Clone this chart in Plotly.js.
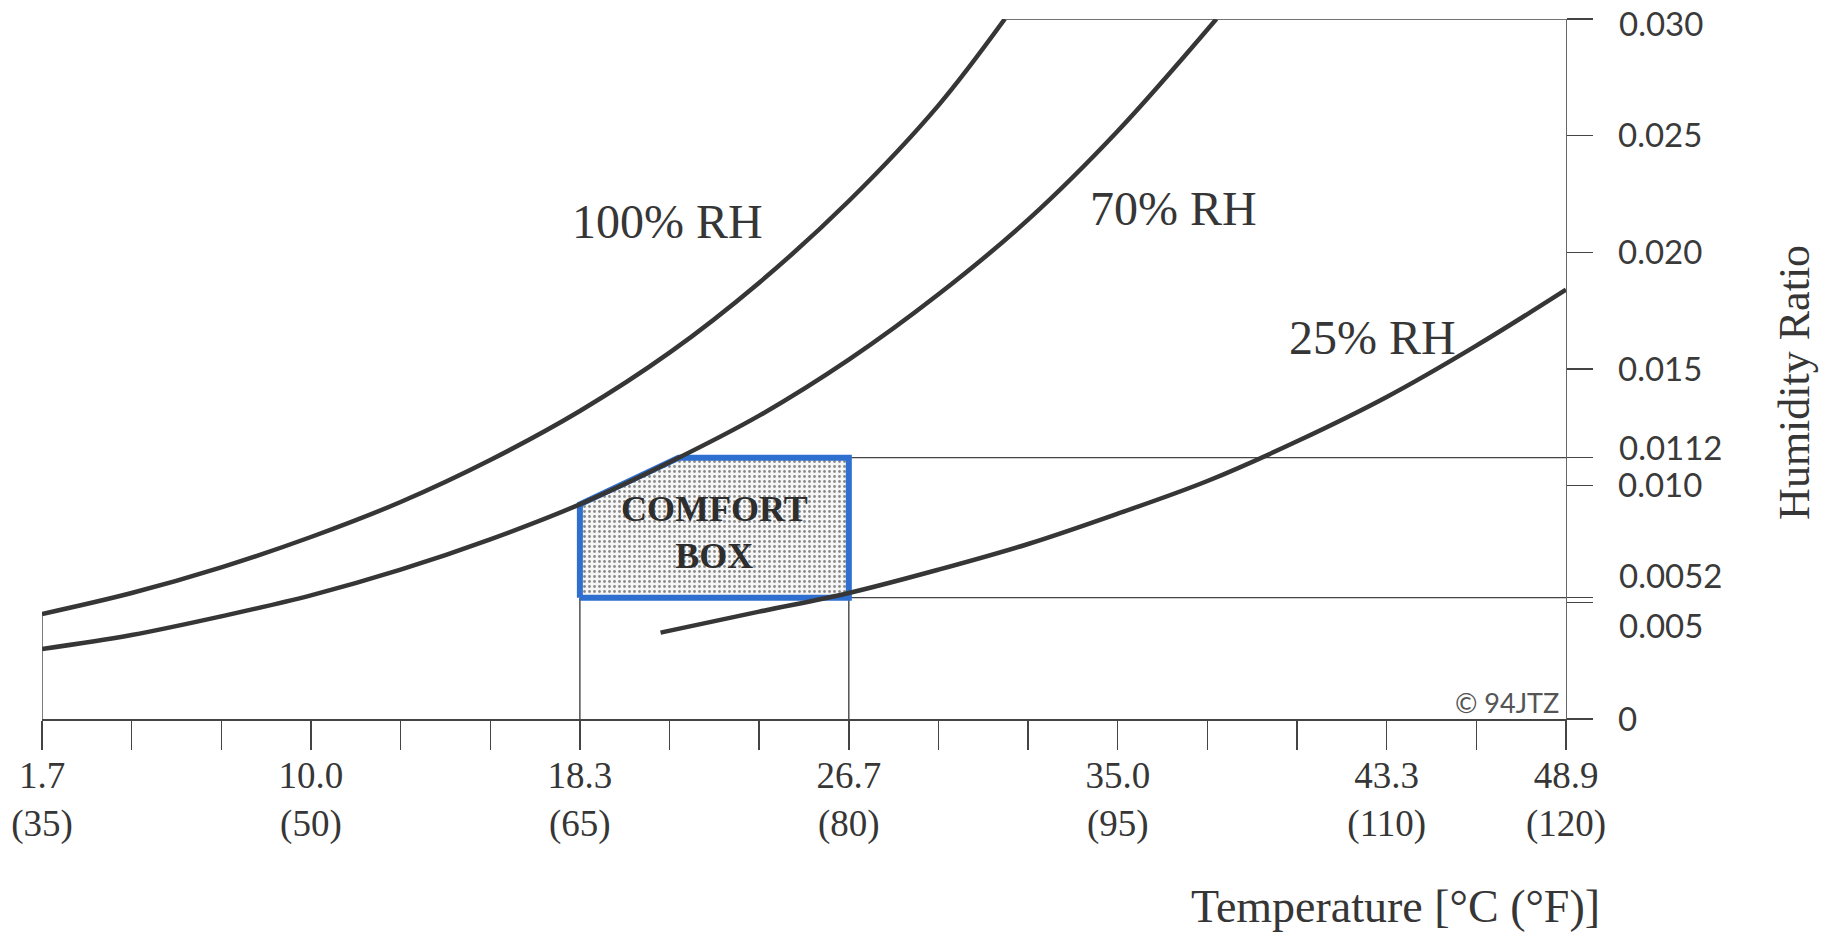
<!DOCTYPE html>
<html>
<head>
<meta charset="utf-8">
<script src="https://cdn.plot.ly/plotly-3.0.1.min.js"></script>
<style>
  html, body { margin: 0; padding: 0; background: #ffffff; }
  #chart { width: 1828px; height: 940px; }
</style>
</head>
<body>
<div id="chart"></div>
<script>
// ---- Data ----
// Temperatures in °F (x), humidity ratio (y)
var tempF100 = [35, 40, 45, 50, 55, 60, 65, 70, 75, 80, 85, 88.7];
var ratio100 = [0.0045, 0.0054, 0.0065, 0.0078, 0.0093, 0.0111, 0.0132, 0.0157, 0.0187, 0.0222, 0.0263, 0.0300];

var tempF70 = [35, 40, 45, 50, 55, 60, 65, 70, 75, 80, 85, 90, 95, 100.5];
var ratio70 = [0.0030, 0.0036, 0.0044, 0.0053, 0.0064, 0.0077, 0.0092, 0.0110, 0.0130, 0.0154, 0.0182, 0.0214, 0.0252, 0.0300];

var tempF25 = [69.5, 75, 80, 85, 90, 95, 100, 105, 110, 115, 120];
var ratio25 = [0.0037, 0.0046, 0.0054, 0.0064, 0.0075, 0.0088, 0.0102, 0.0119, 0.0138, 0.0160, 0.0184];

// Comfort box outline (upper-left edge follows the 70% RH curve)
var boxTempF = [65, 65, 67.5, 70.5, 80, 80, 65];
var boxRatio = [0.0052, 0.0092, 0.0101, 0.0112, 0.0112, 0.0052, 0.0052];

// Comfort limits
var comfortTempMin = 65, comfortTempMax = 80;
var comfortRatioMin = 0.0052, comfortRatioMax = 0.0112;

// Axis ticks
var xTickF = [35, 40, 45, 50, 55, 60, 65, 70, 75, 80, 85, 90, 95, 100, 105, 110, 115, 120];
var xLabeledF = [35, 50, 65, 80, 95, 110, 120];
var xLabelC = ['1.7', '10.0', '18.3', '26.7', '35.0', '43.3', '48.9'];

var yTickVals = [0, 0.005, 0.0052, 0.010, 0.0112, 0.015, 0.020, 0.025, 0.030];
var yTickText = ['0', '', '', '0.010', '', '0.015', '0.020', '0.025', ''];
var ySpecialVals = [0.030, 0.0112, 0.0052, 0.005];
var ySpecialText = ['0.030', '0.0112', '0.0052', '0.005'];
var ySpecialShift = [-4, 11, 23, -23];

var curveLabels = ['100% RH', '70% RH', '25% RH'];
var curveLabelX = [69.9, 98.1, 109.2];
var curveLabelY = [0.02134, 0.02189, 0.01637];

// ---- Build chart ----
var ink = '#363636';
var serif = 'Liberation Serif, Times New Roman, serif';
var sans = 'Lato, Open Sans, sans-serif';

var xTickText = xTickF.map(function (f) {
  var i = xLabeledF.indexOf(f);
  return i >= 0 ? (xLabelC[i] + '<br>(' + f + ')') : '';
});

var traces = [
  {
    x: boxTempF, y: boxRatio, mode: 'lines', fill: 'toself',
    line: { color: '#2f6fd0', width: 6 },
    fillcolor: '#f3f3f3',
    fillpattern: { shape: '.', fgcolor: '#8a8a8a', bgcolor: '#f6f6f6', size: 5, solidity: 0.25 },
    hoverinfo: 'skip', showlegend: false
  },
  { x: tempF100, y: ratio100, mode: 'lines', line: { color: ink, width: 4.5, shape: 'spline' }, showlegend: false },
  { x: tempF70, y: ratio70, mode: 'lines', line: { color: ink, width: 4.5, shape: 'spline' }, showlegend: false },
  { x: tempF25, y: ratio25, mode: 'lines', line: { color: ink, width: 4.5, shape: 'spline' }, showlegend: false }
];

var thin = { color: '#444', width: 1.4 };
var shapes = [
  { type: 'line', xref: 'x', yref: 'y', x0: tempF100[0], x1: tempF100[0], y0: 0, y1: ratio100[0], line: thin },
  { type: 'line', xref: 'x', yref: 'y', x0: tempF100[tempF100.length - 1], x1: 120, y0: 0.030, y1: 0.030, line: thin },
  { type: 'line', xref: 'x', yref: 'y', x0: comfortTempMin, x1: comfortTempMin, y0: 0, y1: comfortRatioMin, line: thin, layer: 'below' },
  { type: 'line', xref: 'x', yref: 'y', x0: comfortTempMax, x1: comfortTempMax, y0: 0, y1: comfortRatioMin, line: thin, layer: 'below' },
  { type: 'line', xref: 'x', yref: 'y', x0: comfortTempMax, x1: 120, y0: comfortRatioMax, y1: comfortRatioMax, line: thin, layer: 'below' },
  { type: 'line', xref: 'x', yref: 'y', x0: comfortTempMax, x1: 120, y0: comfortRatioMin, y1: comfortRatioMin, line: thin, layer: 'below' }
];

var annotations = [];
for (var i = 0; i < curveLabels.length; i++) {
  annotations.push({
    x: curveLabelX[i], y: curveLabelY[i], xref: 'x', yref: 'y', text: curveLabels[i],
    xanchor: 'center', yanchor: 'middle',
    showarrow: false, font: { family: serif, size: 48, color: ink }
  });
}
for (var j = 0; j < ySpecialVals.length; j++) {
  annotations.push({
    x: 1.0335, y: ySpecialVals[j], xref: 'paper', yref: 'y', xanchor: 'left', yanchor: 'middle',
    yshift: ySpecialShift[j], text: ySpecialText[j], showarrow: false,
    font: { family: sans, size: 33, color: '#3a3a3a' }
  });
}
annotations.push({
  x: 72.5, y: 0.0080, xref: 'x', yref: 'y', xanchor: 'center', yanchor: 'middle',
  text: 'COMFORT<br>BOX', showarrow: false,
  font: { family: serif, size: 36, color: '#2e2e2e', weight: 'bold' }
});
annotations.push({
  x: 119.7, y: 0.0007, xref: 'x', yref: 'y', xanchor: 'right', yanchor: 'middle', text: '© 94JTZ', showarrow: false,
  font: { family: sans, size: 27, color: '#555' }
});
annotations.push({
  x: 0.888, y: -0.268, xref: 'paper', yref: 'paper', xanchor: 'center', yanchor: 'middle',
  text: 'Temperature [°C (°F)]', showarrow: false,
  font: { family: serif, size: 46, color: ink }
});
annotations.push({
  x: 1.150, y: 0.481, xref: 'paper', yref: 'paper', xanchor: 'center', yanchor: 'middle',
  text: 'Humidity Ratio', textangle: -90, showarrow: false,
  font: { family: serif, size: 44, color: ink }
});

var layout = {
  width: 1828, height: 940,
  margin: { l: 42, r: 262, t: 19, b: 221 },
  paper_bgcolor: '#ffffff', plot_bgcolor: '#ffffff',
  showlegend: false, hovermode: false,
  xaxis: {
    range: [35, 120], tickmode: 'array', tickvals: xTickF, ticktext: xTickText,
    ticks: 'outside', ticklen: 29, tickwidth: 1.4, tickcolor: '#444',
    showline: true, linecolor: '#444', linewidth: 1.6,
    showgrid: false, zeroline: false, fixedrange: true, ticklabelstandoff: -6,
    tickfont: { family: serif, size: 37, color: ink }
  },
  yaxis: {
    range: [0, 0.0300001], side: 'right', tickmode: 'array', tickvals: yTickVals, ticktext: yTickText,
    ticks: 'outside', ticklen: 26, tickwidth: 1.4, tickcolor: '#444',
    showline: true, linecolor: '#666', linewidth: 1.4,
    showgrid: false, zeroline: false, fixedrange: true, ticklabelstandoff: 18,
    tickfont: { family: sans, size: 33, color: '#3a3a3a' }
  },
  shapes: shapes,
  annotations: annotations
};

Plotly.newPlot('chart', traces, layout, { displayModeBar: false, staticPlot: true });
</script>
</body>
</html>
